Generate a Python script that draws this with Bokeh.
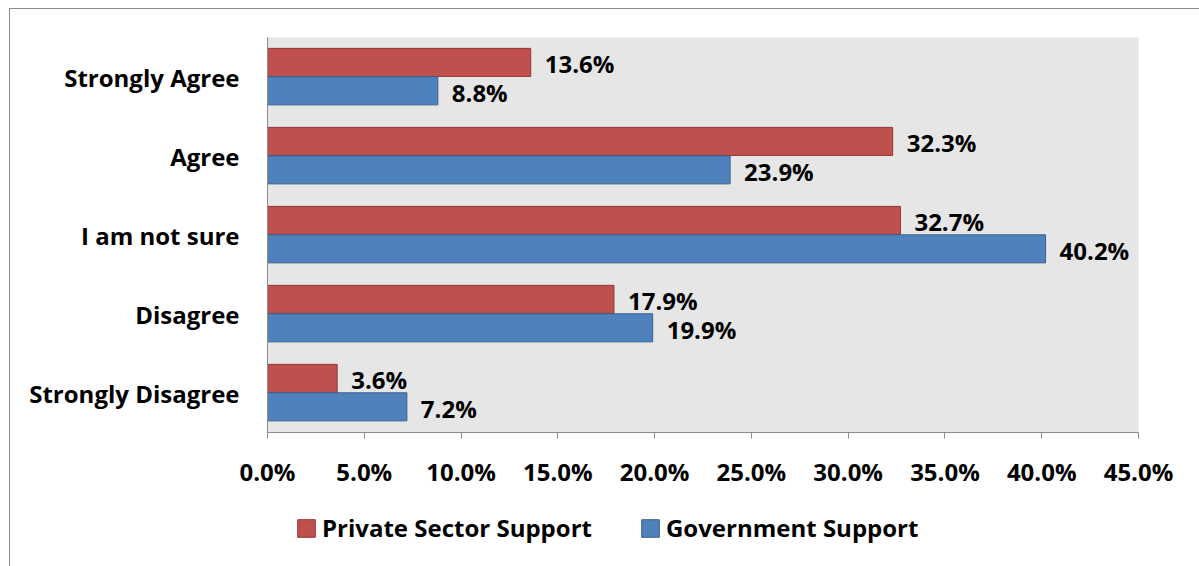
from bokeh.plotting import figure
from bokeh.layouts import column
from bokeh.models import (ColumnDataSource, FactorRange, FixedTicker, PrintfTickFormatter,
                          Legend, LegendItem)
from bokeh.transform import dodge
from bokeh.core.properties import value
from bokeh.embed import file_html
from bokeh.resources import INLINE

categories = ["Strongly Agree", "Agree", "I am not sure", "Disagree", "Strongly Disagree"]
private_sector = [13.6, 32.3, 32.7, 17.9, 3.6]
government = [8.8, 23.9, 40.2, 19.9, 7.2]
x_ticks = [0, 5, 10, 15, 20, 25, 30, 35, 40, 45]
series_names = ["Private Sector Support", "Government Support"]

FONT = "Open Sans"
FS = "24px"
RED, RED_EDGE = "#C0504D", "#8E3A38"
BLUE, BLUE_EDGE = "#4F81BD", "#3A5F8C"

src = ColumnDataSource(dict(
    cat=categories,
    priv=private_sector,
    gov=government,
    priv_lbl=[f"{v:.1f}%" for v in private_sector],
    gov_lbl=[f"{v:.1f}%" for v in government],
))

p = figure(frame_width=871, frame_height=395, output_backend="svg", toolbar_location=None,
           y_range=FactorRange(factors=list(reversed(categories))),
           x_range=(0, 45),
           min_border_left=257, min_border_right=61, min_border_top=28, min_border_bottom=60)
p.background_fill_color = "#E6E6E6"
p.border_fill_color = "white"
p.outline_line_color = None
p.grid.visible = False

r1 = p.hbar(y=dodge("cat", 0.185, range=p.y_range), right="priv", left=0, height=0.355,
            source=src, fill_color=RED, line_color=RED_EDGE, line_width=1)
r2 = p.hbar(y=dodge("cat", -0.175, range=p.y_range), right="gov", left=0, height=0.355,
            source=src, fill_color=BLUE, line_color=BLUE_EDGE, line_width=1)

p.text(x="priv", y=dodge("cat", 0.17, range=p.y_range), text="priv_lbl", source=src,
       x_offset=14, text_align="left", text_baseline="middle",
       text_font=value(FONT), text_font_style="bold", text_font_size=FS, text_color="black")
p.text(x="gov", y=dodge("cat", -0.19, range=p.y_range), text="gov_lbl", source=src,
       x_offset=14, text_align="left", text_baseline="middle",
       text_font=value(FONT), text_font_style="bold", text_font_size=FS, text_color="black")

xa = p.xaxis[0]
xa.ticker = FixedTicker(ticks=x_ticks)
xa.formatter = PrintfTickFormatter(format="%.1f%%")
xa.axis_line_color = "#8C8C8C"
xa.major_tick_line_color = "#8C8C8C"
xa.major_tick_out = 6
xa.major_tick_in = 0
xa.minor_tick_line_color = None
xa.major_label_standoff = 16
xa.major_label_text_font = FONT
xa.major_label_text_font_style = "bold"
xa.major_label_text_font_size = "24px"
xa.major_label_text_color = "black"

ya = p.yaxis[0]
ya.axis_line_color = "#8C8C8C"
ya.major_tick_line_color = None
ya.minor_tick_line_color = None
ya.major_tick_out = 0
ya.major_label_standoff = 28
ya.major_label_text_font = FONT
ya.major_label_text_font_style = "bold"
ya.major_label_text_font_size = FS
ya.major_label_text_color = "black"

# legend strip underneath the chart (its swatch renderers sit outside its visible range)
lf = figure(width=1189, height=74, output_backend="svg", toolbar_location=None,
            x_axis_location=None, y_axis_location=None, min_border=0,
            x_range=(0, 50), y_range=(0, 1))
lf.grid.visible = False
lf.outline_line_color = None
lf.background_fill_color = "white"
lf.border_fill_color = "white"
k1 = lf.hbar(y=-5, right="priv", left=0, height=0.5, source=src,
             fill_color=RED, line_color=RED_EDGE, line_width=1)
k2 = lf.hbar(y=-5, right="gov", left=0, height=0.5, source=src,
             fill_color=BLUE, line_color=BLUE_EDGE, line_width=1)
legend = Legend(items=[LegendItem(label=series_names[0], renderers=[k1]),
                       LegendItem(label=series_names[1], renderers=[k2])],
                orientation="horizontal", location=(28, 22),
                padding=0, margin=0, spacing=47, label_standoff=5,
                glyph_width=22, glyph_height=22,
                border_line_color=None, background_fill_alpha=0,
                label_text_font=FONT, label_text_font_style="bold",
                label_text_font_size=FS, label_text_color="black")
lf.add_layout(legend, "center")

layout = column(p, lf, spacing=0)
layout.margin = (8, 0, 0, 9)
layout.styles = {"border-top": "1px solid #8C8C8C", "border-left": "1px solid #8C8C8C"}

open("out.html", "w").write(file_html(layout, INLINE))
